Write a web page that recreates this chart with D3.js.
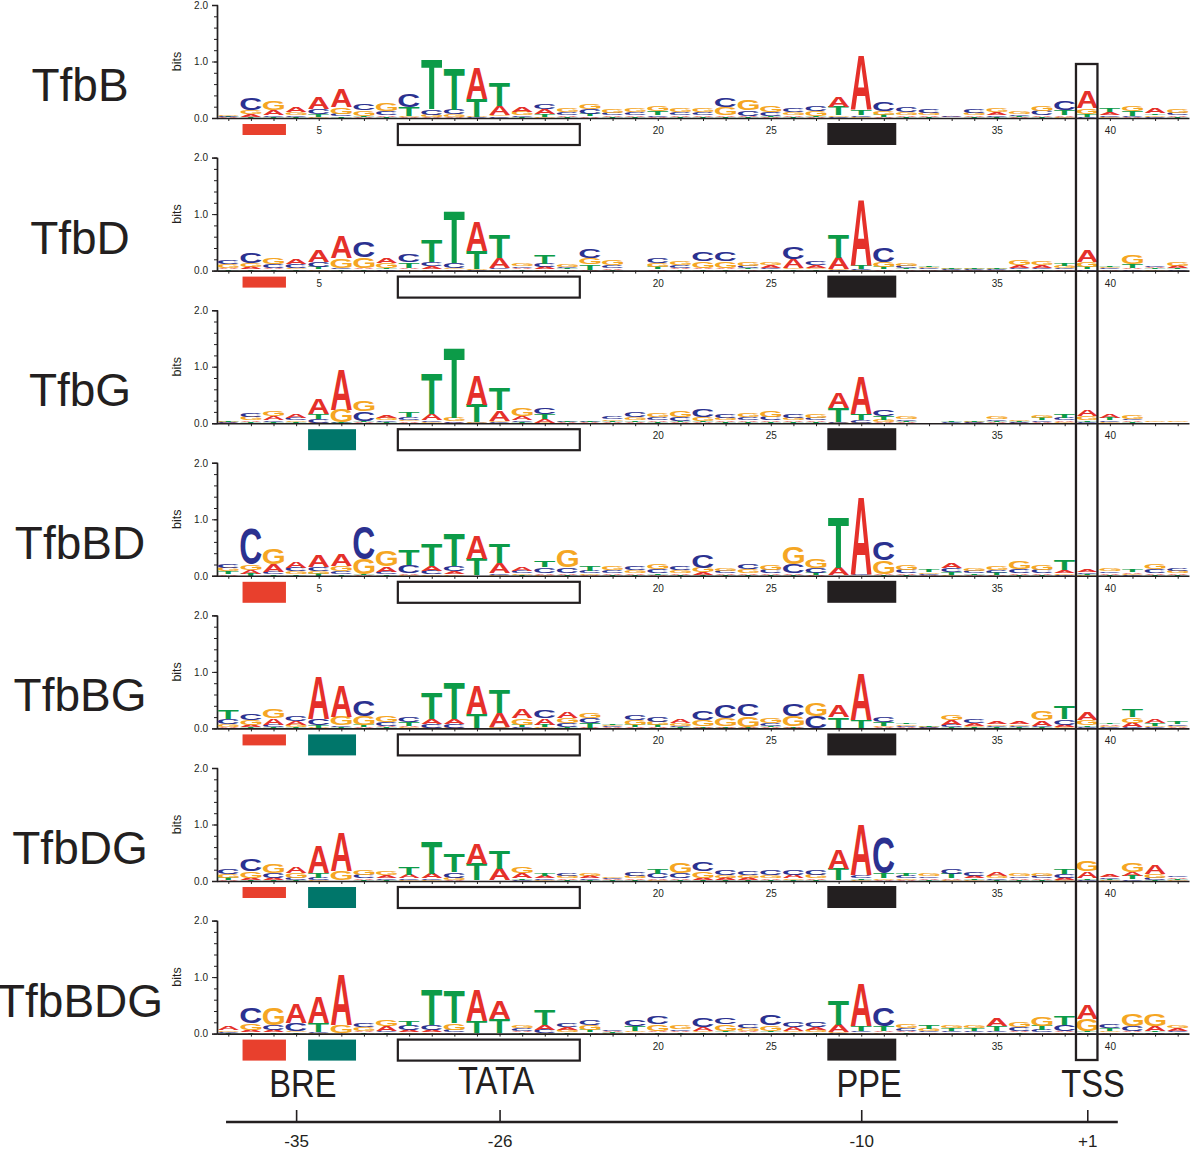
<!DOCTYPE html>
<html><head><meta charset="utf-8">
<script src="https://cdn.jsdelivr.net/npm/d3@7"></script>
<style>body{margin:0;background:#fff}svg{display:block}</style>
</head><body>
<script>
// ---------- data ----------
const panelNames = ["TfbB","TfbD","TfbG","TfbBD","TfbBG","TfbDG","TfbBDG"];
const bases = ["A","C","G","T"];
const positions = d3.range(1, 44);
const xTickLabels = [5,10,15,20,25,30,35,40];
const yTickLabels = [0,1,2];
const bottomTicks = [4,13,29,39];
const bottomTickLabels = ["-35","-26","-10","+1"];
const elementNames = ["BRE","TATA","PPE","TSS"];
const elementCenters = [4.3,12.85,29.35,39.25];
// per panel: red BRE box: 0 none / 1 short / 2 tall; green box: 0/1
const redBox = [1,1,0,2,1,1,2];
const greenBox = [0,0,1,0,1,1,1];

// heights in bits per position: [A, C, G, T]
const TfbB = [[.01,.015,.015,.01],[.05,.21,.06,.02],[.09,.03,.16,.02],[.09,.03,.05,.02],[.2,.09,.02,.05],[.33,.04,.12,.03],[.01,.12,.1,.03],[.03,.07,.14,.02],[.02,.22,.02,.15],[.02,.1,.04,.88],[.02,.08,.05,.73],[.54,.01,.01,.32],[.15,.03,.03,.41],[.08,.03,.06,.02],[.08,.1,.02,.05],[.03,.05,.06,.02],[.03,.08,.1,.04],[.03,.04,.06,.02],[.03,.05,.06,.02],[.02,.03,.1,.07],[.03,.05,.06,.02],[.03,.05,.06,.02],[.03,.16,.14,.02],[.03,.1,.18,.01],[.02,.07,.11,.02],[.03,.07,.05,.02],[.02,.1,.09,.02],[.19,.02,.03,.15],[.96,.03,.02,.09],[.02,.17,.06,.04],[.03,.09,.05,.02],[.03,.06,.04,.02],[.01,.01,.005,.005],[.03,.06,.04,.02],[.05,.03,.06,.02],[.02,.03,.04,.02],[.03,.08,.1,.02],[.03,.15,.02,.09],[.29,.02,.1,.05],[.05,.03,.02,.06],[.02,.02,.1,.09],[.08,.02,.03,.03],[.03,.04,.06,.02]];
const TfbD = [[.03,.07,.06,.02],[.05,.19,.07,.02],[.03,.06,.12,.02],[.1,.06,.03,.02],[.21,.09,.02,.04],[.39,.03,.17,.02],[.03,.27,.18,.02],[.1,.02,.09,.02],[.03,.13,.02,.1],[.05,.07,.03,.39],[.02,.09,.03,.93],[.53,.01,.01,.32],[.18,.03,.02,.41],[.03,.03,.05,.02],[.04,.06,.02,.16],[.02,.03,.04,.02],[.01,.17,.11,.1],[.03,.05,.09,.01],[.005,.005,.005,.005],[.02,.08,.07,.04],[.03,.04,.06,.02],[.03,.17,.11,.02],[.03,.17,.11,.02],[.02,.04,.06,.02],[.04,.03,.05,.02],[.15,.21,.03,.02],[.04,.06,.03,.02],[.2,.01,.02,.4],[1.17,.02,.01,.06],[.02,.25,.08,.04],[.02,.04,.05,.02],[.02,.02,.025,.03],[.01,.01,.01,.01],[.01,.01,.01,.01],[.01,.01,.01,.01],[.05,.03,.09,.02],[.04,.03,.06,.02],[.02,.03,.04,.045],[.21,.02,.09,.04],[.02,.02,.02,.03],[.03,.02,.17,.06],[.03,.03,.02,.02],[.04,.02,.06,.02]];
const TfbG = [[.01,.01,.01,.01],[.03,.065,.06,.02],[.07,.03,.08,.02],[.07,.05,.03,.02],[.27,.06,.01,.09],[.71,.01,.22,.01],[.02,.17,.19,.02],[.05,.03,.045,.02],[.03,.05,.03,.09],[.12,.03,.02,.71],[.01,.02,.06,1.23],[.52,.01,.01,.31],[.19,.02,.02,.39],[.07,.03,.14,.02],[.07,.12,.01,.08],[.01,.01,.005,.01],[.01,.01,.005,.01],[.02,.05,.03,.02],[.02,.09,.05,.03],[.03,.05,.07,.02],[.02,.07,.12,.02],[.02,.14,.07,.02],[.03,.06,.04,.02],[.03,.05,.07,.02],[.03,.06,.12,.02],[.03,.06,.04,.02],[.03,.04,.06,.02],[.27,.02,.01,.24],[.67,.05,.01,.11],[.02,.12,.04,.06],[.02,.03,.05,.02],[.005,.005,.005,.005],[.005,.015,.005,.02],[.01,.01,.01,.01],[.02,.03,.05,.02],[.01,.01,.015,.01],[.02,.03,.045,.04],[.03,.04,.02,.06],[.12,.03,.06,.03],[.06,.03,.02,.04],[.03,.03,.06,.02],[.005,.005,.01,.005],[.005,.005,.01,.005]];
const TfbBD = [[.03,.07,.06,.05],[.07,.62,.09,.04],[.14,.04,.28,.03],[.12,.06,.05,.03],[.21,.07,.05,.04],[.21,.05,.1,.03],[.01,.57,.27,.01],[.1,.04,.27,.03],[.03,.14,.02,.28],[.08,.06,.03,.38],[.05,.09,.03,.58],[.42,.005,.005,.29],[.18,.03,.02,.35],[.07,.04,.03,.02],[.03,.1,.02,.12],[.03,.1,.3,.02],[.02,.04,.03,.08],[.03,.05,.06,.02],[.03,.07,.05,.02],[.02,.07,.09,.03],[.03,.06,.05,.02],[.04,.23,.08,.02],[.03,.04,.05,.02],[.03,.09,.07,.02],[.03,.06,.09,.02],[.03,.17,.3,.01],[.01,.09,.17,.04],[.13,.005,.005,.89],[1.38,.01,.005,.005],[.02,.33,.24,.01],[.03,.06,.08,.02],[.02,.02,.03,.035],[.08,.07,.02,.04],[.02,.04,.05,.03],[.02,.04,.06,.035],[.03,.07,.14,.02],[.03,.06,.09,.02],[.05,.02,.03,.18],[.04,.03,.02,.02],[.03,.03,.05,.02],[.03,.02,.02,.04],[.03,.07,.08,.02],[.03,.05,.04,.02]];
const TfbBG = [[.03,.09,.05,.15],[.04,.12,.08,.02],[.12,.04,.16,.02],[.075,.08,.04,.02],[.76,.12,.01,.04],[.55,.03,.15,.02],[.02,.28,.16,.04],[.03,.06,.11,.02],[.03,.1,.02,.07],[.08,.075,.01,.45],[.08,.07,.01,.65],[.5,.005,.005,.24],[.26,.01,.01,.42],[.15,.02,.12,.04],[.12,.13,.02,.04],[.12,.07,.09,.02],[.01,.09,.1,.085],[.02,.02,.02,.03],[.02,.1,.08,.04],[.02,.1,.06,.04],[.07,.03,.05,.02],[.03,.16,.11,.01],[.03,.24,.14,.01],[.02,.21,.18,.01],[.02,.05,.09,.03],[.03,.2,.18,.01],[.005,.2,.22,.005],[.2,.005,.005,.19],[.82,.005,.005,.14],[.02,.09,.03,.06],[.02,.02,.03,.03],[.01,.01,.01,.01],[.08,.04,.1,.02],[.04,.06,.03,.02],[.04,.03,.03,.02],[.04,.03,.03,.02],[.09,.03,.15,.02],[.04,.1,.02,.23],[.13,.03,.08,.03],[.03,.02,.02,.03],[.08,.02,.1,.14],[.07,.02,.03,.04],[.02,.03,.02,.04]];
const TfbDG = [[.02,.08,.07,.04],[.04,.2,.12,.02],[.04,.08,.16,.02],[.12,.04,.09,.02],[.47,.04,.02,.08],[.68,.005,.17,.005],[.03,.06,.08,.02],[.05,.03,.06,.02],[.06,.03,.02,.14],[.08,.03,.02,.58],[.02,.1,.04,.32],[.36,.005,.005,.29],[.21,.005,.005,.32],[.09,.02,.12,.03],[.04,.03,.02,.045],[.03,.05,.04,.02],[.04,.03,.05,.02],[.02,.02,.02,.01],[.03,.06,.04,.02],[.03,.08,.02,.085],[.03,.09,.18,.02],[.04,.16,.12,.02],[.04,.08,.05,.02],[.04,.06,.04,.02],[.03,.08,.05,.02],[.06,.08,.03,.02],[.03,.08,.06,.02],[.35,.005,.005,.2],[.9,.05,.02,.03],[.02,.62,.03,.08],[.02,.04,.03,.05],[.03,.03,.04,.02],[.03,.085,.02,.08],[.04,.07,.02,.03],[.07,.03,.04,.02],[.03,.03,.05,.02],[.03,.04,.045,.02],[.04,.06,.02,.09],[.12,.02,.18,.03],[.04,.03,.02,.02],[.07,.03,.15,.06],[.15,.04,.07,.02],[.03,.03,.02,.02]];
const TfbBDG = [[.06,.02,.03,.01],[.05,.27,.12,.02],[.05,.08,.3,.02],[.35,.13,.03,.02],[.46,.02,.01,.16],[.89,.005,.14,.005],[.03,.065,.06,.02],[.09,.03,.12,.02],[.04,.08,.02,.085],[.04,.09,.02,.61],[.02,.04,.12,.58],[.55,.005,.005,.21],[.33,.005,.005,.24],[.03,.04,.05,.02],[.08,.06,.01,.27],[.05,.07,.04,.02],[.02,.095,.09,.04],[.02,.02,.01,.01],[.02,.11,.03,.09],[.03,.14,.12,.02],[.03,.03,.06,.02],[.07,.17,.03,.02],[.02,.12,.11,.03],[.03,.06,.05,.02],[.02,.18,.1,.03],[.06,.08,.03,.02],[.05,.08,.04,.02],[.13,.01,.02,.43],[.76,.03,.02,.09],[.03,.32,.02,.08],[.03,.04,.06,.02],[.02,.03,.04,.07],[.02,.03,.05,.04],[.02,.03,.05,.04],[.14,.03,.02,.08],[.03,.06,.08,.02],[.02,.04,.16,.08],[.03,.11,.02,.15],[.26,.02,.2,.03],[.02,.07,.03,.05],[.03,.08,.2,.02],[.09,.02,.2,.03],[.04,.03,.05,.02]];
const panelData = [TfbB, TfbD, TfbG, TfbBD, TfbBG, TfbDG, TfbBDG];

// ---------- drawing ----------
const W = 1200, H = 1151;
const colors = {A:"#e5302a", C:"#2b3190", G:"#f5a623", T:"#0c9b48"};
const svg = d3.select("body").append("svg").attr("width", W).attr("height", H);
const x = d3.scaleLinear().domain([0.5, 43.5]).range([217, 1189]);
const panelTop0 = 118, panelStep = 152.6, panelH = 113;
const letterW = 21;

// glyph ink metrics
const cv = document.createElement("canvas").getContext("2d");
const FS = 100, FONT = "'Liberation Sans', Arial, Helvetica, sans-serif";
cv.font = `bold ${FS}px ${FONT}`;
const ink = {};
bases.forEach(b => {
  const m = cv.measureText(b);
  ink[b] = {l: m.actualBoundingBoxLeft, r: m.actualBoundingBoxRight,
            a: m.actualBoundingBoxAscent, d: m.actualBoundingBoxDescent};
});

panelData.forEach((data, i) => {
  const yb = panelTop0 + i * panelStep;
  const y = d3.scaleLinear().domain([0, 2]).range([yb, yb - panelH]);
  const g = svg.append("g");

  // name
  g.append("text").attr("x", 80).attr("y", yb - 17).attr("text-anchor", "middle")
    .attr("font-family", FONT).attr("font-size", 46).attr("fill", "#231f20").text(panelNames[i]);
  // bits
  g.append("text").attr("transform", `translate(181,${y(1)}) rotate(-90)`).attr("text-anchor", "middle")
    .attr("font-family", FONT).attr("font-size", 12.5).attr("fill", "#231f20").text("bits");

  // y axis
  const ya = g.append("g").attr("transform", "translate(217,0)")
    .call(d3.axisLeft(y).tickValues(yTickLabels).tickFormat(d3.format(".1f")).tickSize(5).tickPadding(4));
  const ym = g.append("g").attr("transform", "translate(217,0)")
    .call(d3.axisLeft(y).tickValues(d3.range(0, 2.01, 0.2)).tickFormat("").tickSize(3).tickSizeOuter(0));
  ym.selectAll("text").remove();
  [ya, ym].forEach(a => {
    a.selectAll("path").attr("stroke", "#231f20").attr("stroke-width", 1.4);
    a.selectAll("line").attr("stroke", "#231f20").attr("stroke-width", 1);
    a.selectAll("text").attr("font-family", FONT).attr("font-size", 10).attr("fill", "#231f20");
  });

  // letters
  const lg = g.append("g");
  data.forEach((vals, j) => {
    const p = positions[j];
    const stack = bases.map((b, k) => ({b, h: vals[k]})).sort((u, v) => u.h - v.h);
    let cum = 0;
    stack.forEach(s => {
      const yTop = y(cum + s.h), yBot = y(cum);
      cum += s.h;
      const hp = yBot - yTop;
      if (hp <= 0) return;
      const m = ink[s.b];
      const sx = letterW / (m.l + m.r), sy = hp / (m.a + m.d);
      lg.append("text")
        .attr("transform", `translate(${x(p) - letterW / 2},${yTop}) scale(${sx},${sy}) translate(${m.l},${m.a})`)
        .attr("font-family", FONT).attr("font-weight", "bold").attr("font-size", FS)
        .attr("fill", colors[s.b]).text(s.b);
    });
  });

  // x axis
  const xa = g.append("g").attr("transform", `translate(0,${yb})`)
    .call(d3.axisBottom(x).tickValues(positions).tickSize(3).tickSizeOuter(0).tickPadding(6)
      .tickFormat(d => xTickLabels.includes(d) ? d : ""));
  xa.selectAll("text").filter(function () { return this.textContent === ""; }).remove();
  xa.selectAll("path").attr("stroke", "#231f20").attr("stroke-width", 1.6);
  xa.selectAll("line").attr("stroke", "#231f20");
  xa.selectAll("text").attr("font-family", FONT).attr("font-size", 10).attr("fill", "#231f20");

  // element boxes
  if (redBox[i]) {
    const h = redBox[i] === 2 ? 21 : 11;
    g.append("rect").attr("x", x(1.63)).attr("width", x(3.55) - x(1.63))
      .attr("y", yb + 6).attr("height", h).attr("fill", "#e8402d");
  }
  if (greenBox[i]) {
    g.append("rect").attr("x", x(4.53)).attr("width", x(6.65) - x(4.53))
      .attr("y", yb + 6).attr("height", 21).attr("fill", "#00766a");
  }
  g.append("rect").attr("x", x(8.5)).attr("width", x(16.55) - x(8.5))
    .attr("y", yb + 6).attr("height", 21).attr("fill", "#fff").attr("stroke", "#231f20").attr("stroke-width", 2.2);
  g.append("rect").attr("x", x(27.5)).attr("width", x(30.55) - x(27.5))
    .attr("y", yb + 5).attr("height", 22).attr("fill", "#231f20");
});

// TSS column box
svg.append("rect").attr("x", x(38.5)).attr("width", x(39.45) - x(38.5))
  .attr("y", 64).attr("height", 1060 - 64).attr("fill", "none")
  .attr("stroke", "#231f20").attr("stroke-width", 2.3);

// element labels
elementNames.forEach((n, k) => {
  const cx = x(elementCenters[k]);
  const yy = n === "TATA" ? 1094 : 1097;
  svg.append("text").attr("transform", `translate(${cx},${yy}) scale(0.86,1)`)
    .attr("text-anchor", "middle").attr("font-family", FONT).attr("font-size", 38)
    .attr("fill", "#231f20").text(n);
});

// bottom coordinate axis
const ba = svg.append("g").attr("transform", "translate(0,1122)")
  .call(d3.axisBottom(x).tickValues(bottomTicks).tickSizeInner(-12).tickSizeOuter(0).tickPadding(13)
    .tickFormat((d, k) => bottomTickLabels[k]));
ba.select("path").remove();
ba.selectAll("line").attr("stroke", "#231f20").attr("stroke-width", 1.6);
ba.selectAll("text").attr("font-family", FONT).attr("font-size", 17).attr("fill", "#231f20");
svg.append("line").attr("x1", x(0.9)).attr("x2", x(40.35)).attr("y1", 1122).attr("y2", 1122)
  .attr("stroke", "#231f20").attr("stroke-width", 2.4);
</script>
</body></html>
